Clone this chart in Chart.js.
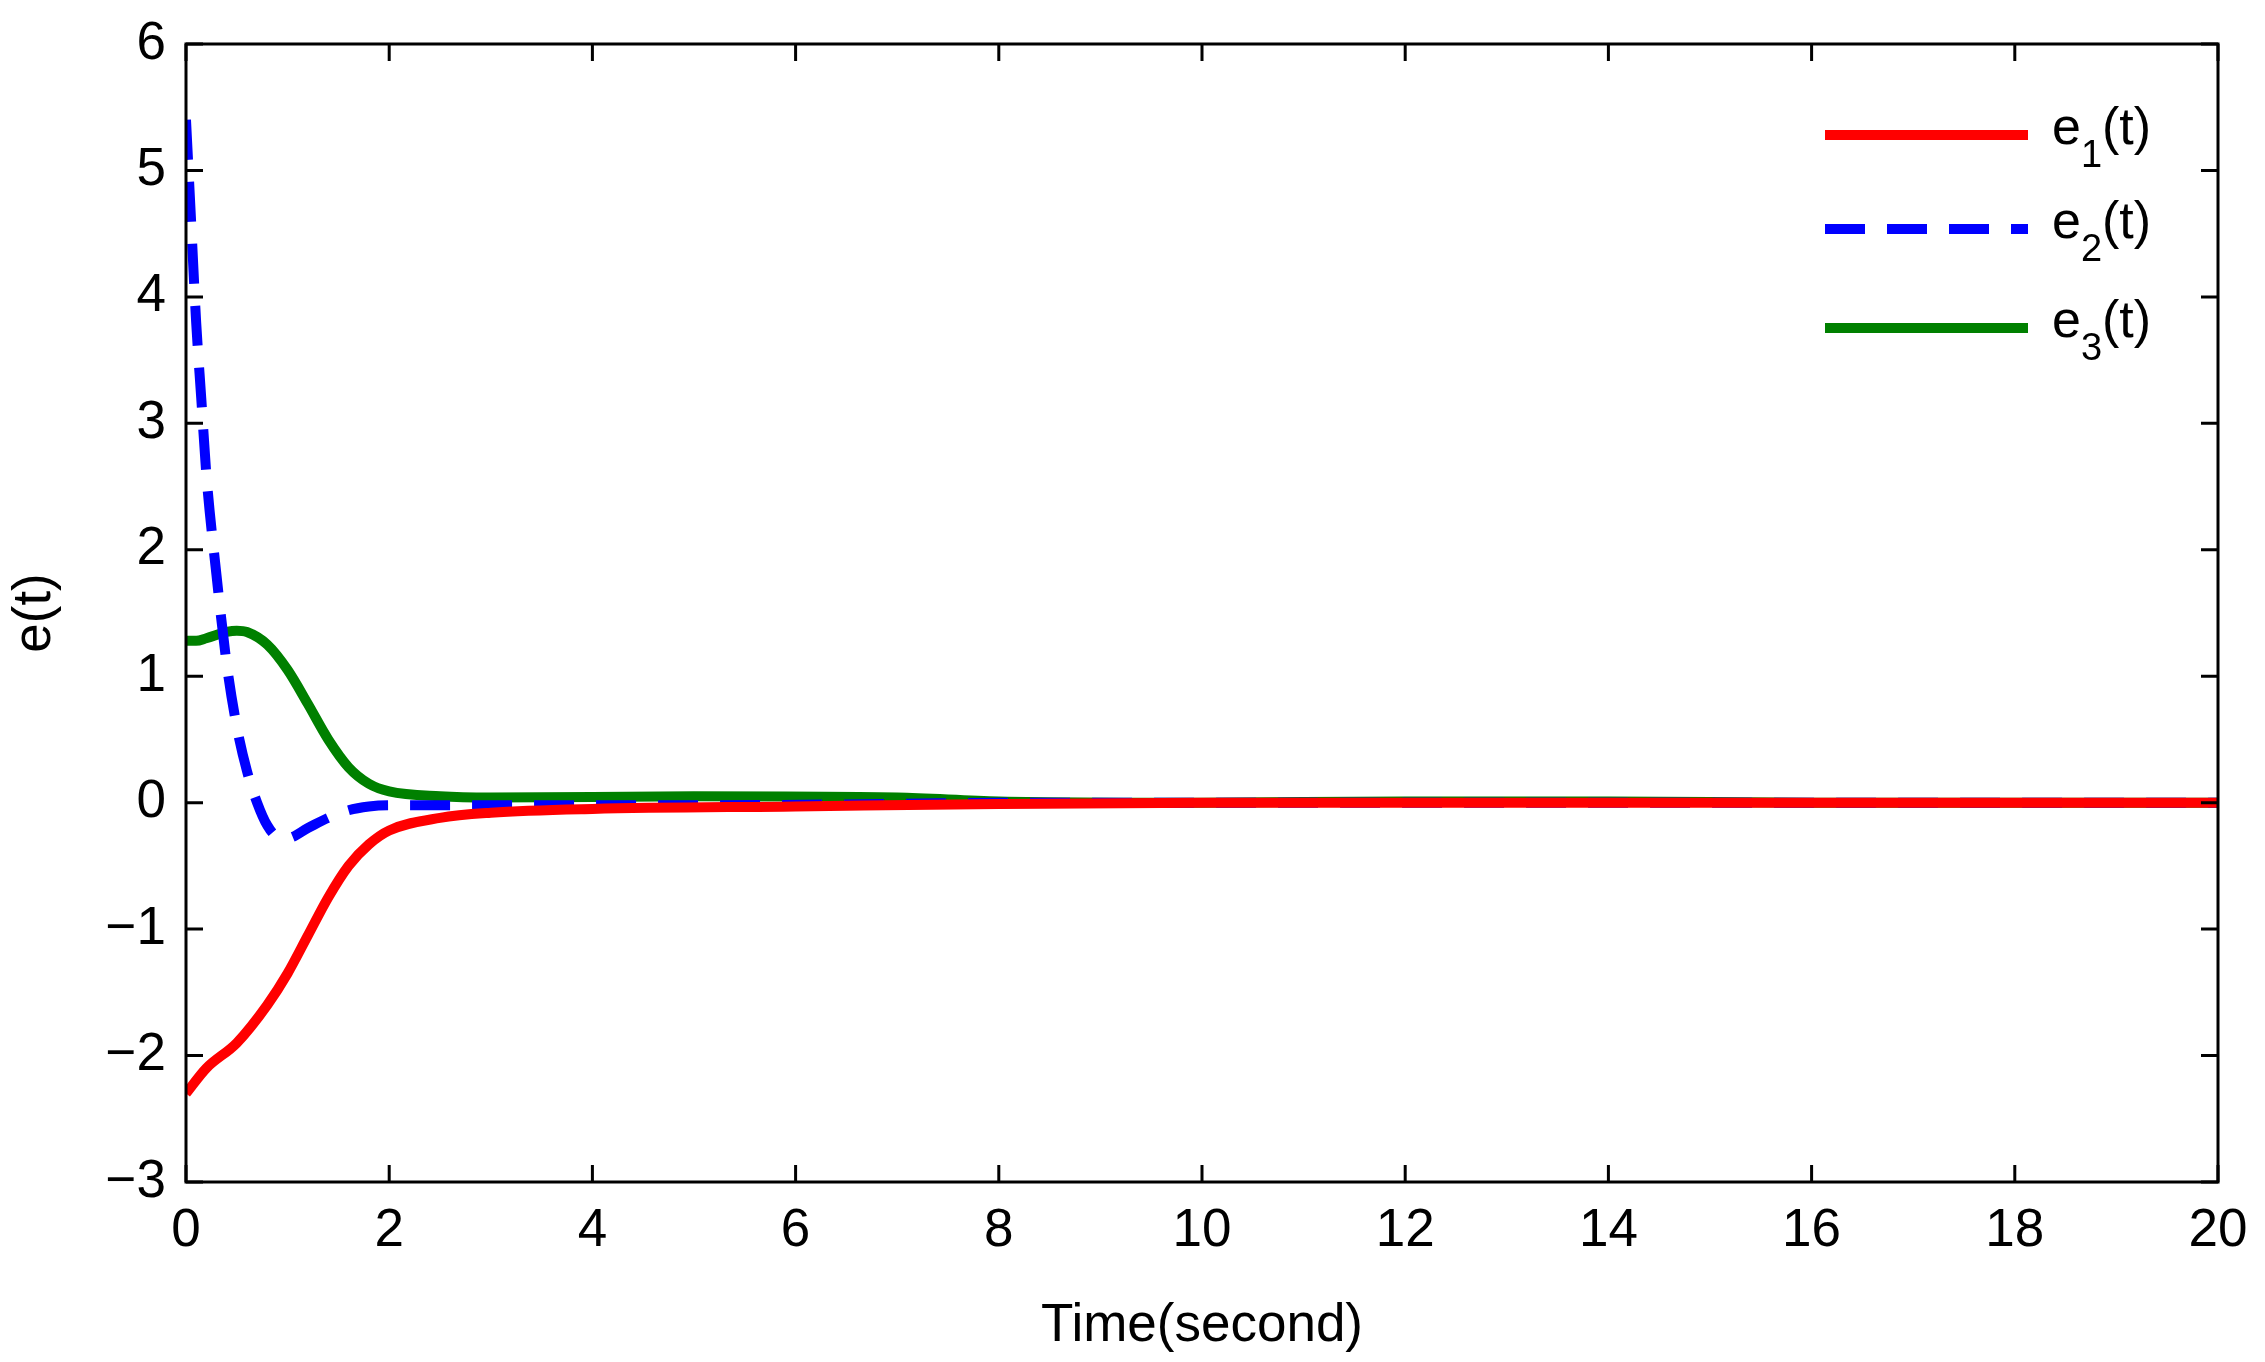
<!DOCTYPE html>
<html><head><meta charset="utf-8">
<script src="https://cdn.jsdelivr.net/npm/chart.js@4"></script>
<style>html,body{margin:0;padding:0;background:#fff}#w{width:2265px;height:1362px}</style>
</head><body><div id="w"><canvas id="c"></canvas></div>
<script>
const t1 = [0,0.2,0.5,0.8,1.0,1.2,1.4,1.6,1.8,2.0,2.5,3,4,6,8,10,12,14,16,18,20];
const e1 = [-2.3,-2.1,-1.9,-1.6,-1.35,-1.05,-0.75,-0.5,-0.33,-0.22,-0.12,-0.08,-0.05,-0.03,-0.01,0,0,0,0,0,0];
const t2 = [0,0.05,0.1,0.15,0.2,0.3,0.4,0.5,0.6,0.7,0.8,0.9,1.0,1.2,1.4,1.6,1.8,2.0,3,5,7,8,10,12,14,16,18,20];
const e2 = [5.4,4.6,3.8,3.2,2.6,1.8,1.1,0.6,0.25,0.0,-0.18,-0.27,-0.28,-0.2,-0.12,-0.06,-0.03,-0.02,-0.02,-0.02,-0.01,0,0,0,0,0,0,0];
const t3 = [0,0.1,0.2,0.4,0.5,0.6,0.8,1.0,1.2,1.4,1.6,1.8,2.0,2.5,3,5,7,8,10,12,14,16,18,20];
const e3 = [1.28,1.28,1.3,1.35,1.36,1.35,1.25,1.05,0.78,0.5,0.28,0.15,0.09,0.05,0.04,0.05,0.04,0.01,0,0.01,0.01,0,0,0];
const xTicks = [0,2,4,6,8,10,12,14,16,18,20];
const yTicks = [-3,-2,-1,0,1,2,3,4,5,6];
const seriesNames = ['e1(t)','e2(t)','e3(t)'];
const FONT = 'Liberation Sans';
const pts = (t,v)=>t.map((x,i)=>({x:x,y:v[i]}));
const frame = {
  id:'frame',
  afterDraw(ch){
    const c=ch.ctx, a=ch.chartArea, L=17;
    c.save(); c.strokeStyle='#000'; c.lineWidth=3;
    c.strokeRect(a.left,a.top,a.right-a.left,a.bottom-a.top);
    c.beginPath();
    xTicks.forEach(v=>{const x=ch.scales.x.getPixelForValue(v);
      c.moveTo(x,a.bottom);c.lineTo(x,a.bottom-L);c.moveTo(x,a.top);c.lineTo(x,a.top+L);});
    yTicks.forEach(v=>{const y=ch.scales.y.getPixelForValue(v);
      c.moveTo(a.left,y);c.lineTo(a.left+L,y);c.moveTo(a.right,y);c.lineTo(a.right-L,y);});
    c.stroke();
    const cols=['#ff0000','#0000ff','#008000'], ys=[135,229,328];
    ys.forEach((y,i)=>{
      c.beginPath(); c.strokeStyle=cols[i]; c.lineWidth=10;
      c.setLineDash(i===1?[40,22]:[]);
      c.moveTo(1825,y); c.lineTo(2028,y); c.stroke(); c.setLineDash([]);
      c.fillStyle='#000'; c.textBaseline='middle'; c.textAlign='left';
      c.font='52px "'+FONT+'"'; c.fillText('e',2052,y-5);
      const w=c.measureText('e').width;
      c.font='38px "'+FONT+'"'; c.fillText(String(i+1),2052+w,y+22);
      const w2=c.measureText(String(i+1)).width;
      c.font='52px "'+FONT+'"'; c.fillText('(t)',2052+w+w2,y-5);
    });
    c.restore();
  }
};
new Chart(document.getElementById('c'),{
  type:'line',
  data:{datasets:[
    {label:seriesNames[0],data:pts(t1,e1),borderColor:'#ff0000',borderWidth:10,pointRadius:0,cubicInterpolationMode:'monotone'},
    {label:seriesNames[1],data:pts(t2,e2),borderColor:'#0000ff',borderWidth:10,borderDash:[40,22],pointRadius:0,cubicInterpolationMode:'monotone'},
    {label:seriesNames[2],data:pts(t3,e3),borderColor:'#008000',borderWidth:10,pointRadius:0,cubicInterpolationMode:'monotone'}
  ]},
  options:{responsive:true,maintainAspectRatio:false,animation:false,
    layout:{padding:{top:44,right:47,left:0,bottom:0}},
    plugins:{legend:{display:false},tooltip:{enabled:false}},
    scales:{
      x:{type:'linear',min:0,max:20,afterBuildTicks:s=>{s.ticks=xTicks.map(v=>({value:v}));},
        afterFit:s=>{s.height=180;},
        grid:{display:false},border:{display:false},
        ticks:{color:'#000',font:{family:FONT,size:53},padding:10,maxRotation:0},
        title:{display:true,text:'Time(second)',color:'#000',font:{family:FONT,size:53},padding:{top:0}}},
      y:{min:-3,max:6,afterBuildTicks:s=>{s.ticks=yTicks.map(v=>({value:v}));},
        afterFit:s=>{s.width=186;},
        grid:{display:false},border:{display:false},
        ticks:{color:'#000',font:{family:FONT,size:53},padding:12,callback:v=>String(v).replace('-','\u2212')},
        title:{display:true,text:'e(t)',color:'#000',font:{family:FONT,size:53},padding:{bottom:8}}}
    }},
  plugins:[frame]
});
</script></body></html>
